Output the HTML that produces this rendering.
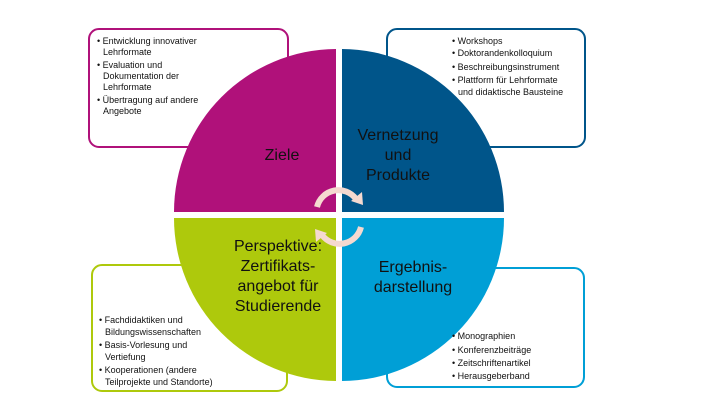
<!DOCTYPE html>
<html><head><meta charset="utf-8"><style>
body{margin:0;background:#fff}
svg{display:block;font-family:"Liberation Sans",sans-serif}
.s{font-size:9px;fill:#111}
.b{font-size:16px;fill:#111}
</style></head><body>
<svg width="720" height="405" viewBox="0 0 720 405">
<rect x="89" y="29" width="199" height="118" rx="10" fill="#fff" stroke="#B0117A" stroke-width="2"/>
<rect x="387" y="29" width="198" height="118" rx="10" fill="#fff" stroke="#00558A" stroke-width="2"/>
<rect x="92" y="265" width="195" height="126" rx="10" fill="#fff" stroke="#AEC90C" stroke-width="2"/>
<rect x="387" y="268" width="197" height="119" rx="10" fill="#fff" stroke="#009FD6" stroke-width="2"/>
<path d="M336,212 L336,49 A163,163 0 0 0 174,212 Z" fill="#B0117A"/>
<path d="M342,212 L342,49 A163,163 0 0 1 504,212 Z" fill="#00558A"/>
<path d="M336,218 L336,381 A163,163 0 0 1 174,218 Z" fill="#AEC90C"/>
<path d="M342,218 L342,381 A163,163 0 0 0 504,218 Z" fill="#009FD6"/>
<g fill="none" stroke="#F5D9D0" stroke-width="6">
<path d="M317,207 A22,22 0 0 1 356,199"/>
<path d="M361,227 A22,22 0 0 1 322,235"/>
</g>
<path d="M363,205 L362,192 L351,201 Z" fill="#F5D9D0"/>
<path d="M315,229 L316,242 L327,233 Z" fill="#F5D9D0"/>
<text class="b" x="282" y="160" text-anchor="middle">Ziele</text>
<text class="b" text-anchor="middle"><tspan x="398" y="140">Vernetzung</tspan><tspan x="398" y="160">und</tspan><tspan x="398" y="180">Produkte</tspan></text>
<text class="b" text-anchor="middle"><tspan x="413" y="272">Ergebnis-</tspan><tspan x="413" y="292">darstellung</tspan></text>
<text class="b" text-anchor="middle"><tspan x="278" y="251">Perspektive:</tspan><tspan x="278" y="271">Zertifikats-</tspan><tspan x="278" y="291">angebot für</tspan><tspan x="278" y="311">Studierende</tspan></text>
<g class="s">
<text x="97" y="44">• Entwicklung innovativer</text><text x="103" y="55">Lehrformate</text>
<text x="97" y="68">• Evaluation und</text><text x="103" y="79">Dokumentation der</text><text x="103" y="90">Lehrformate</text>
<text x="97" y="103">• Übertragung auf andere</text><text x="103" y="114">Angebote</text>
<text x="452" y="44">• Workshops</text>
<text x="452" y="56">• Doktorandenkolloquium</text>
<text x="452" y="70">• Beschreibungsinstrument</text>
<text x="452" y="83">• Plattform für Lehrformate</text><text x="458" y="95">und didaktische Bausteine</text>
<text x="99" y="323">• Fachdidaktiken und</text><text x="105" y="335">Bildungswissenschaften</text>
<text x="99" y="348">• Basis-Vorlesung und</text><text x="105" y="360">Vertiefung</text>
<text x="99" y="373">• Kooperationen (andere</text><text x="105" y="385">Teilprojekte und Standorte)</text>
<text x="452" y="339">• Monographien</text>
<text x="452" y="353">• Konferenzbeiträge</text>
<text x="452" y="366">• Zeitschriftenartikel</text>
<text x="452" y="379">• Herausgeberband</text>
</g>
</svg>
</body></html>
